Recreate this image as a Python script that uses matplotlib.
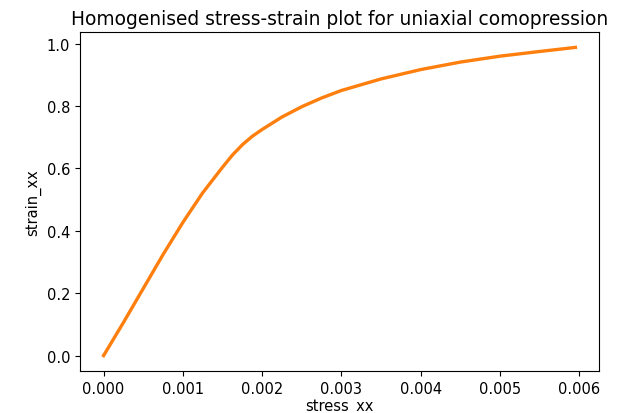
import numpy as np
import matplotlib
matplotlib.use("Agg")
import matplotlib.pyplot as plt

# values
stress_xx = [0.0, 0.00025, 0.0005, 0.00075, 0.001, 0.00125, 0.0015, 0.001625,
             0.00175, 0.001875, 0.002, 0.00225, 0.0025, 0.00275, 0.003, 0.0035,
             0.004, 0.0045, 0.005, 0.0055, 0.00595]
strain_xx = [0.0, 0.106, 0.215, 0.324, 0.427, 0.522, 0.604, 0.643,
             0.676, 0.703, 0.725, 0.765, 0.798, 0.826, 0.850, 0.887,
             0.917, 0.941, 0.960, 0.975, 0.988]

fig = plt.figure(figsize=(6.19, 4.14), dpi=100)
ax = fig.add_axes([80 / 619, 1 - 372 / 414, 519 / 619, 339 / 414])

ax.plot(stress_xx, strain_xx, color='C0', linewidth=1)
ax.plot(stress_xx, strain_xx, color='C1', linewidth=2.4)

ax.set_title('Homogenised stress-strain plot for uniaxial comopression', fontsize=13.4)
ax.set_xlabel('stress_xx', fontsize=10.5, labelpad=2)
ax.set_ylabel('strain_xx', fontsize=10.5)
ax.set_xticks([0, 0.001, 0.002, 0.003, 0.004, 0.005, 0.006])
ax.set_yticks([0.0, 0.2, 0.4, 0.6, 0.8, 1.0])
ax.tick_params(labelsize=10.5)

fig.savefig('out.png', dpi=100)
